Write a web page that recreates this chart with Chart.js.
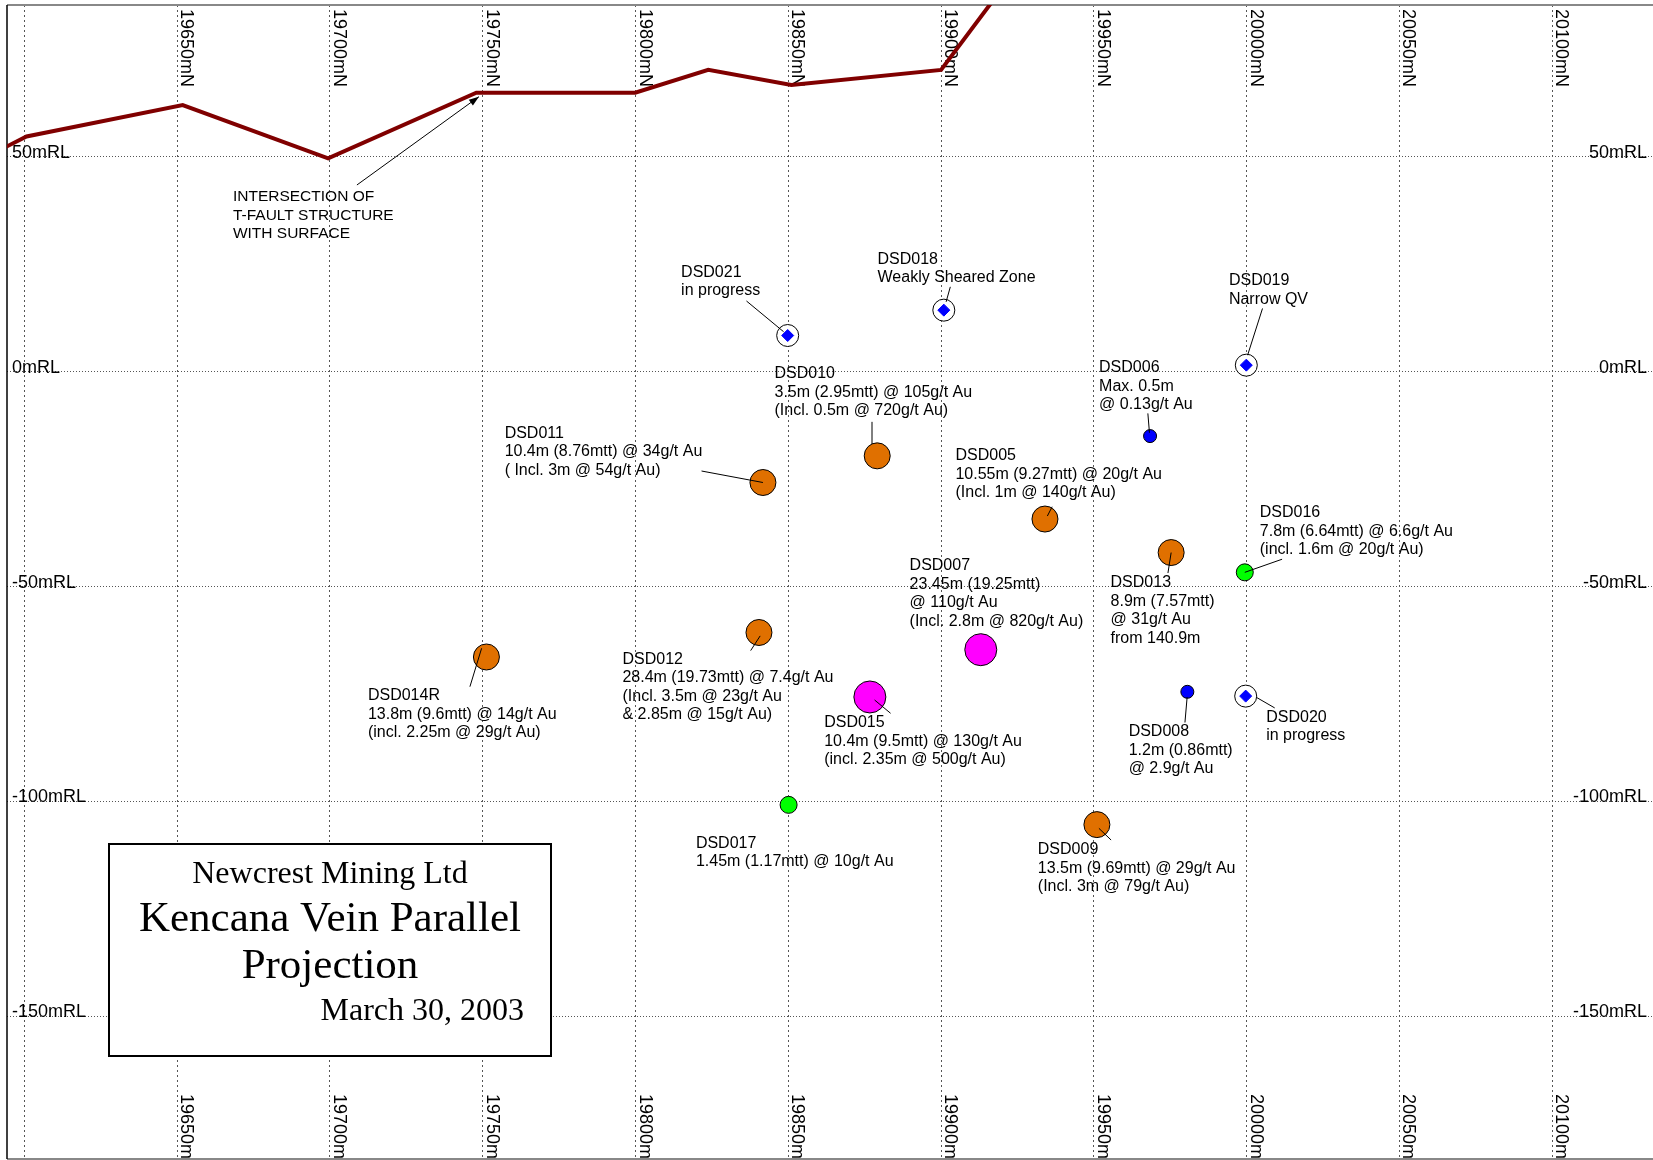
<!DOCTYPE html>
<html lang="en">
<head>
  <meta charset="UTF-8">
  <title>Kencana Vein Parallel Projection</title>
  <script src="https://cdn.jsdelivr.net/npm/chart.js"></script>
  <style>
    html, body {
      margin: 0;
      padding: 0;
      background-color: #ffffff;
    }
    #wrap {
      width: 1653px;
      height: 1160px;
    }
  </style>
</head>
<body>

<div id="wrap"><canvas id="projChart" width="1653" height="1160"></canvas></div>

<script>
  // grid / tick values
  const northTicks = [19600, 19650, 19700, 19750, 19800, 19850, 19900, 19950, 20000, 20050, 20100];
  const northLabels = ['', '19650mN', '19700mN', '19750mN', '19800mN', '19850mN', '19900mN', '19950mN', '20000mN', '20050mN', '20100mN'];
  const rlTicks = [50, 0, -50, -100, -150];
  const rlLabels = ['50mRL', '0mRL', '-50mRL', '-100mRL', '-150mRL'];

  // T-fault / surface intersection trace
  const surfaceN  = [19594.0, 19600.7, 19651.8, 19699.4, 19747.9, 19799.9, 19823.8, 19851.0, 19900.0, 19920.0];
  const surfaceRL = [52.3, 54.7, 62.0, 49.6, 64.9, 64.9, 70.2, 66.7, 70.2, 89.2];

  // drill hole pierce points
  const holeIds   = ['DSD005', 'DSD006', 'DSD007', 'DSD008', 'DSD009', 'DSD010', 'DSD011', 'DSD012', 'DSD013',
                     'DSD014R', 'DSD015', 'DSD016', 'DSD017', 'DSD018', 'DSD019', 'DSD020', 'DSD021'];
  const holeN     = [19934.0, 19968.4, 19913.0, 19980.6, 19951.0, 19879.1, 19841.7, 19840.4, 19975.3,
                     19751.2, 19876.7, 19999.4, 19850.1, 19900.9, 19999.9, 19999.7, 19849.8];
  const holeRL    = [-34.3, -15.0, -64.7, -74.5, -105.4, -19.6, -25.8, -60.7, -42.1,
                     -66.4, -75.7, -46.7, -100.8, 14.3, 1.5, -75.5, 8.4];
  const holeClass = ['ore', 'trace', 'bonanza', 'trace', 'ore', 'ore', 'ore', 'ore', 'ore',
                     'ore', 'bonanza', 'low', 'low', 'nil', 'nil', 'nil', 'nil'];
  const holeNotes = [
    ['10.55m (9.27mtt) @ 20g/t Au', '(Incl. 1m @ 140g/t Au)'],
    ['Max. 0.5m', '@ 0.13g/t Au'],
    ['23.45m (19.25mtt)', '@ 110g/t Au', '(Incl. 2.8m @ 820g/t Au)'],
    ['1.2m (0.86mtt)', '@ 2.9g/t Au'],
    ['13.5m (9.69mtt) @ 29g/t Au', '(Incl. 3m @ 79g/t Au)'],
    ['3.5m (2.95mtt) @ 105g/t Au', '(Incl. 0.5m @ 720g/t Au)'],
    ['10.4m (8.76mtt) @ 34g/t Au', '( Incl. 3m @ 54g/t Au)'],
    ['28.4m (19.73mtt) @ 7.4g/t Au', '(Incl. 3.5m @ 23g/t Au', '& 2.85m @ 15g/t Au)'],
    ['8.9m (7.57mtt)', '@ 31g/t Au', 'from 140.9m'],
    ['13.8m (9.6mtt) @ 14g/t Au', '(incl. 2.25m @ 29g/t Au)'],
    ['10.4m (9.5mtt) @ 130g/t Au', '(incl. 2.35m @ 500g/t Au)'],
    ['7.8m (6.64mtt) @ 6.6g/t Au', '(incl. 1.6m @ 20g/t Au)'],
    ['1.45m (1.17mtt) @ 10g/t Au'],
    ['Weakly Sheared Zone'],
    ['Narrow QV'],
    ['in progress'],
    ['in progress']
  ];

  const surfaceNote = ['INTERSECTION OF', 'T-FAULT STRUCTURE', 'WITH SURFACE'];
  const titleLines = ['Newcrest Mining Ltd', 'Kencana Vein Parallel', 'Projection', 'March 30, 2003'];

  // ---- styling / layout ----
  const classStyle = {
    bonanza: { r: 16, fill: '#ff00ff' },
    ore:     { r: 13, fill: '#e07000' },
    low:     { r: 8.5, fill: '#00ff00' },
    trace:   { r: 6.5, fill: '#0000ff' },
    nil:     { r: 11, fill: '#ffffff' }
  };

  // offsets (px) from the marker centre: first text line centre, leader line ends
  const calloutLayout = {
    DSD005:  { text: [-89.5, -63.3], leader: [[7.2, -12.3], [2.4, -3]] },
    DSD006:  { text: [-51, -68.3], leader: [[-2.2, -22.7], [-0.6, -3.3]] },
    DSD007:  { text: [-71.2, -83.7] },
    DSD008:  { text: [-58.7, 40.1], leader: [[-2.4, 30.7], [-0.2, 5.1]] },
    DSD009:  { text: [-59.1, 25.4], leader: [[2, 3.7], [14.2, 15.4]] },
    DSD010:  { text: [-102.7, -82.2], leader: [[-5.2, -34], [-5.2, -11.7]] },
    DSD011:  { text: [-258.3, -49.2], leader: [[-61.4, -11.5], [0, 0]] },
    DSD012:  { text: [-136.5, 26.7], leader: [[-8.3, 18.1], [1.2, 3.4]] },
    DSD013:  { text: [-60.6, 30.2], leader: [[0, 0], [-3.2, 20.5]] },
    DSD014R: { text: [-118.5, 39], leader: [[-16.5, 29.7], [-4.8, -8.7]] },
    DSD015:  { text: [-45.7, 25.7], leader: [[20.7, 16.3], [4.7, 3]] },
    DSD016:  { text: [15, -59.7], leader: [[37.3, -13.1], [0, 0]] },
    DSD017:  { text: [-92.7, 38.6] },
    DSD018:  { text: [-66.3, -51], leader: [[6.5, -23.3], [2.3, -8.3]] },
    DSD019:  { text: [-17.4, -84.3], leader: [[16.2, -56.7], [1.3, -10]] },
    DSD020:  { text: [20.5, 21.4], leader: [[11, 1.4], [29, 11.8]] },
    DSD021:  { text: [-106.6, -63], leader: [[-41.2, -34.5], [-4.1, -3.8]] }
  };

  const SANS = '"Liberation Sans", Arial, sans-serif';
  const SERIF = '"Liberation Serif", "Times New Roman", serif';

  function holePoints(cls) {
    const pts = [];
    holeIds.forEach((id, i) => {
      if (holeClass[i] === cls) pts.push({ x: holeN[i], y: holeRL[i] });
    });
    return pts;
  }

  function dotDataset(cls) {
    const st = classStyle[cls];
    return {
      data: holePoints(cls),
      pointStyle: 'circle',
      pointRadius: st.r,
      backgroundColor: st.fill,
      borderColor: '#000000',
      borderWidth: 1
    };
  }

  const datasets = [
    {
      // blue diamond inside the open circle (holes without result)
      data: holePoints('nil'),
      pointStyle: 'rectRot',
      pointRadius: 6,
      backgroundColor: '#0000ff',
      borderColor: '#0000ff',
      borderWidth: 1
    },
    dotDataset('nil'),
    dotDataset('trace'),
    dotDataset('low'),
    dotDataset('ore'),
    dotDataset('bonanza'),
    {
      data: surfaceN.map((n, i) => ({ x: n, y: surfaceRL[i] })),
      showLine: true,
      pointRadius: 0,
      borderColor: '#800000',
      borderWidth: 4,
      borderJoinStyle: 'miter'
    }
  ];

  function drawLines(ctx, lines, x, y, lh) {
    lines.forEach((t, i) => ctx.fillText(t, x, y + i * lh));
  }

  const sectionDecor = {
    id: 'sectionDecor',
    beforeDatasetsDraw(chart) {
      const { ctx, chartArea: a, scales: { x: xs, y: ys } } = chart;
      ctx.save();

      // frame
      ctx.strokeStyle = '#888888';
      ctx.lineWidth = 2;
      ctx.beginPath();
      ctx.moveTo(a.left, a.top);
      ctx.lineTo(a.right, a.top);
      ctx.moveTo(a.left, a.bottom);
      ctx.lineTo(a.right, a.bottom);
      ctx.stroke();
      ctx.strokeStyle = '#000000';
      ctx.lineWidth = 1.5;
      ctx.beginPath();
      ctx.moveTo(a.left, a.top);
      ctx.lineTo(a.left, a.bottom);
      ctx.stroke();

      ctx.beginPath();
      ctx.rect(a.left, a.top, a.right - a.left, a.bottom - a.top);
      ctx.clip();

      ctx.fillStyle = '#000000';

      // northing labels, rotated, top and bottom
      ctx.font = '18px ' + SANS;
      northTicks.forEach((v, i) => {
        const label = northLabels[i];
        if (!label) return;
        const px = xs.getPixelForValue(v);
        [a.top + 4, a.bottom - 65].forEach(ty => {
          ctx.save();
          ctx.translate(px + 4, ty);
          ctx.rotate(Math.PI / 2);
          ctx.textAlign = 'left';
          ctx.textBaseline = 'alphabetic';
          ctx.fillText(label, 0, 0);
          ctx.restore();
        });
      });

      // RL labels, both sides
      ctx.font = '18px ' + SANS;
      ctx.textBaseline = 'alphabetic';
      rlTicks.forEach((v, i) => {
        const py = ys.getPixelForValue(v);
        ctx.textAlign = 'left';
        ctx.fillText(rlLabels[i], a.left + 5, py + 1);
        ctx.textAlign = 'right';
        ctx.fillText(rlLabels[i], a.right - 6, py + 1);
      });

      ctx.restore();
    },
    afterDatasetsDraw(chart) {
      const { ctx, scales: { x: xs, y: ys } } = chart;
      ctx.save();
      ctx.fillStyle = '#000000';
      ctx.strokeStyle = '#000000';
      ctx.lineWidth = 1;
      ctx.font = '16px ' + SANS;
      ctx.textAlign = 'left';
      ctx.textBaseline = 'middle';

      // hole callouts
      holeIds.forEach((id, i) => {
        const lay = calloutLayout[id];
        if (!lay) return;
        const px = xs.getPixelForValue(holeN[i]);
        const py = ys.getPixelForValue(holeRL[i]);
        if (lay.leader) {
          ctx.beginPath();
          ctx.moveTo(px + lay.leader[0][0], py + lay.leader[0][1]);
          ctx.lineTo(px + lay.leader[1][0], py + lay.leader[1][1]);
          ctx.stroke();
        }
        drawLines(ctx, [id].concat(holeNotes[i]), px + lay.text[0], py + lay.text[1], 18.5);
      });

      // surface note with arrow to the trace vertex
      const vx = xs.getPixelForValue(surfaceN[4]);
      const vy = ys.getPixelForValue(surfaceRL[4]);
      const tipX = vx + 2.6, tipY = vy + 4;
      const tailX = vx - 119.4, tailY = vy + 92.3;
      ctx.beginPath();
      ctx.moveTo(tailX, tailY);
      ctx.lineTo(tipX, tipY);
      ctx.stroke();
      const ang = Math.atan2(tipY - tailY, tipX - tailX);
      ctx.beginPath();
      ctx.moveTo(tipX, tipY);
      ctx.lineTo(tipX - 10 * Math.cos(ang) + 3.5 * Math.sin(ang), tipY - 10 * Math.sin(ang) - 3.5 * Math.cos(ang));
      ctx.lineTo(tipX - 10 * Math.cos(ang) - 3.5 * Math.sin(ang), tipY - 10 * Math.sin(ang) + 3.5 * Math.cos(ang));
      ctx.closePath();
      ctx.fill();
      ctx.font = '15.5px ' + SANS;
      drawLines(ctx, surfaceNote, vx - 243.4, vy + 104.3, 18.3);

      // title block
      const bx = 109, by = 844, bw = 442, bh = 212;
      ctx.fillStyle = '#ffffff';
      ctx.fillRect(bx, by, bw, bh);
      ctx.strokeStyle = '#000000';
      ctx.lineWidth = 2;
      ctx.strokeRect(bx, by, bw, bh);
      ctx.fillStyle = '#000000';
      ctx.textBaseline = 'middle';
      ctx.textAlign = 'center';
      ctx.font = '32px ' + SERIF;
      ctx.fillText(titleLines[0], bx + bw / 2, by + 31);
      ctx.font = '43px ' + SERIF;
      ctx.fillText(titleLines[1], bx + bw / 2, by + 76);
      ctx.fillText(titleLines[2], bx + bw / 2, by + 123);
      ctx.textAlign = 'right';
      ctx.font = '32px ' + SERIF;
      ctx.fillText(titleLines[3], bx + bw - 27, by + 168);

      ctx.restore();
    }
  };

  new Chart(document.getElementById('projChart'), {
    type: 'scatter',
    data: { datasets },
    options: {
      responsive: false,
      animation: false,
      events: [],
      layout: { autoPadding: false, padding: { left: 7, top: 5, right: 0, bottom: 1 } },
      plugins: {
        legend: { display: false },
        tooltip: { enabled: false }
      },
      scales: {
        x: {
          type: 'linear',
          min: 19594.3,
          max: 20133,
          afterBuildTicks: axis => { axis.ticks = northTicks.map(v => ({ value: v })); },
          ticks: { display: false },
          grid: { color: '#555555', lineWidth: 1, drawTicks: false },
          border: { display: false, dash: [2, 3] }
        },
        y: {
          type: 'linear',
          min: -183.2,
          max: 85.3,
          afterBuildTicks: axis => { axis.ticks = rlTicks.map(v => ({ value: v })); },
          ticks: { display: false },
          grid: { color: '#555555', lineWidth: 1, drawTicks: false },
          border: { display: false, dash: [1, 2] }
        }
      }
    },
    plugins: [sectionDecor]
  });
</script>

</body>
</html>
